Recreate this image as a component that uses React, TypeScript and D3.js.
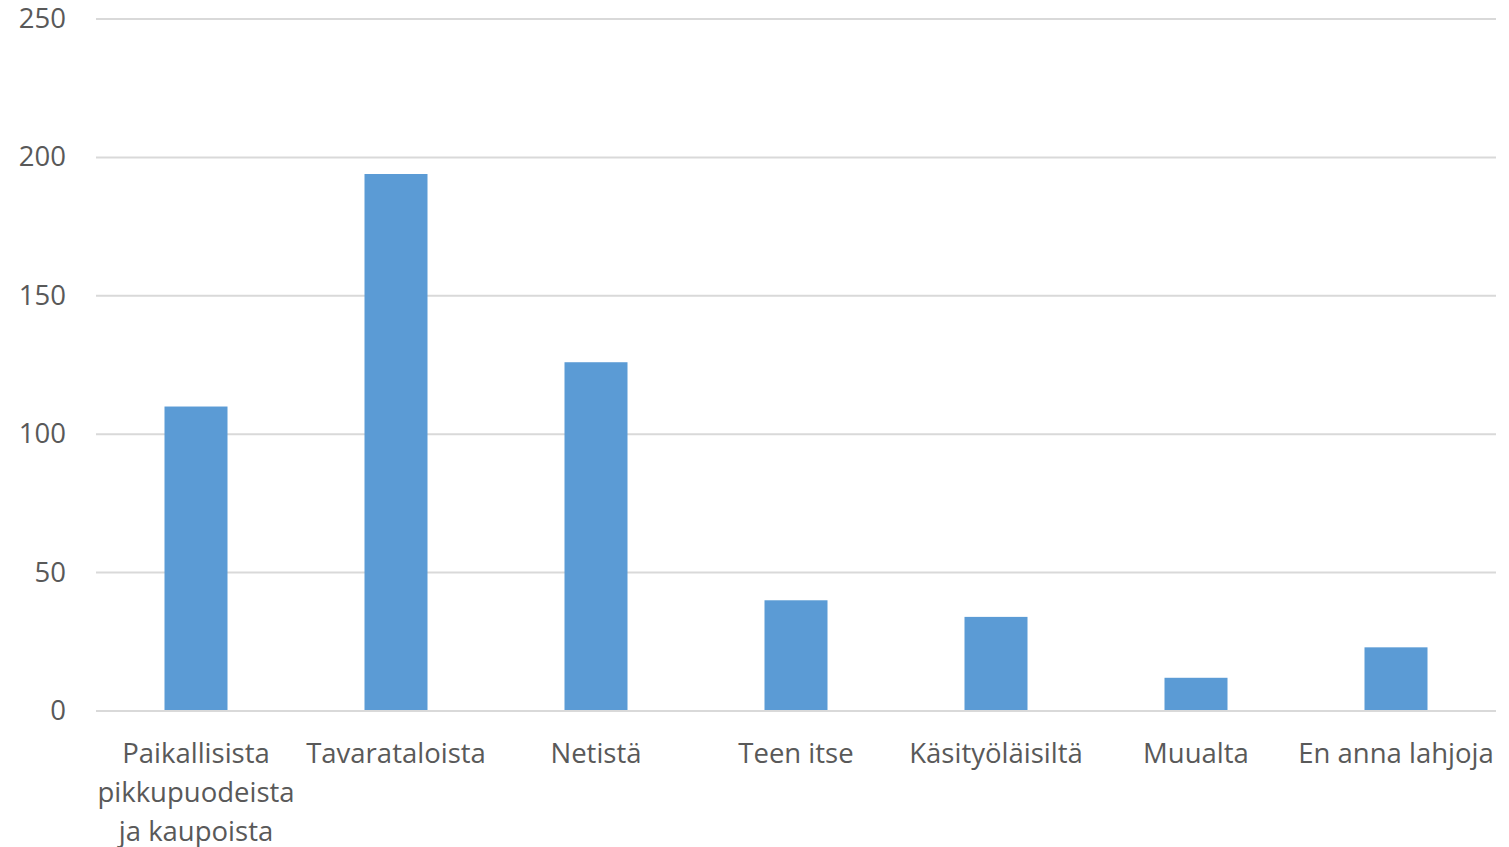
import { useEffect, useRef } from "react";
import * as d3 from "d3";

const categories = [
  "Paikallisista\npikkupuodeista\nja kaupoista",
  "Tavarataloista",
  "Netistä",
  "Teen itse",
  "Käsityöläisiltä",
  "Muualta",
  "En anna lahjoja",
];
const values = [110, 194, 126, 40, 34, 12, 23];
const yTicks = [0, 50, 100, 150, 200, 250];

export default function App() {
  const svgRef = useRef<SVGSVGElement | null>(null);

  useEffect(() => {
    if (!svgRef.current) return;

    const width = 1509;
    const height = 847;
    const margin = { top: 19, right: 13, bottom: 136, left: 96 };
    const w = width - margin.left - margin.right;
    const h = height - margin.top - margin.bottom;
    const font = "'Open Sans', Lato, sans-serif";
    const textColor = "#595959";

    const svg = d3.select(svgRef.current);
    svg.selectAll("*").remove();
    svg.attr("width", width).attr("height", height);

    const g = svg.append("g").attr("transform", `translate(${margin.left},${margin.top})`);

    const x = d3.scaleBand<string>()
      .domain(categories)
      .range([0, w])
      .paddingInner(0.685)
      .paddingOuter(0.3425);

    const y = d3.scaleLinear().domain([0, 250]).range([h, 0]);

    // gridlines
    g.selectAll("line.grid")
      .data(yTicks)
      .enter()
      .append("line")
      .attr("class", "grid")
      .attr("x1", 0)
      .attr("x2", w)
      .attr("y1", d => y(d))
      .attr("y2", d => y(d))
      .attr("stroke", "#d9d9d9")
      .attr("stroke-width", 2);

    // y tick labels
    g.selectAll("text.ytick")
      .data(yTicks)
      .enter()
      .append("text")
      .attr("class", "ytick")
      .attr("x", -30)
      .attr("y", d => y(d) + 9)
      .attr("text-anchor", "end")
      .attr("font-family", font)
      .attr("font-size", 27.5)
      .attr("fill", textColor)
      .text(d => String(d));

    // bars
    g.selectAll("rect")
      .data(values)
      .enter()
      .append("rect")
      .attr("x", (_, i) => x(categories[i])!)
      .attr("y", d => y(d))
      .attr("width", x.bandwidth())
      .attr("height", d => h - y(d))
      .attr("fill", "#5b9bd5");

    // baseline on top of bars
    g.append("line")
      .attr("x1", 0)
      .attr("x2", w)
      .attr("y1", y(0))
      .attr("y2", y(0))
      .attr("stroke", "#d9d9d9")
      .attr("stroke-width", 2);

    // category labels
    const labels = g.selectAll("text.xlabel")
      .data(categories)
      .enter()
      .append("text")
      .attr("class", "xlabel")
      .attr("text-anchor", "middle")
      .attr("font-family", font)
      .attr("font-size", 27.5)
      .attr("fill", textColor)
      .attr("transform", d => `translate(${x(d)! + x.bandwidth() / 2},${h + 52})`);

    labels.each(function (d) {
      d.split("\n").forEach((line, i) => {
        d3.select(this)
          .append("tspan")
          .attr("x", 0)
          .attr("y", i * 39)
          .text(line);
      });
    });
  }, []);

  return <svg ref={svgRef} style={{ position: "absolute", left: 0, top: 0 }} />;
}
